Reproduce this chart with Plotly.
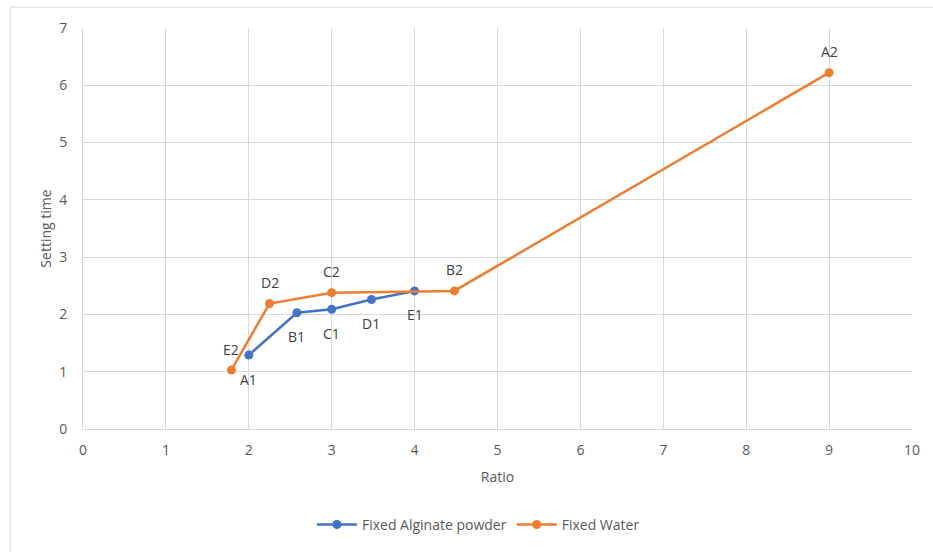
import plotly.graph_objects as go

alg_x = [2.0, 2.58, 3.0, 3.48, 4.0]
alg_y = [1.29, 2.03, 2.09, 2.26, 2.41]
alg_labels = ["A1", "B1", "C1", "D1", "E1"]

wat_x = [1.79, 2.25, 3.0, 4.48, 9.0]
wat_y = [1.03, 2.19, 2.38, 2.41, 6.22]
wat_labels = ["E2", "D2", "C2", "B2", "A2"]

x_ticks = list(range(0, 11))
y_ticks = list(range(0, 8))

FONT = "Open Sans, Lato, sans-serif"
GRAY = "#595959"
LABEL = "#404040"

fig = go.Figure()
fig.add_trace(go.Scatter(
    x=alg_x, y=alg_y, mode="lines+markers", name="Fixed Alginate powder",
    line=dict(color="#4472C4", width=2.5), marker=dict(color="#4472C4", size=9),
))
fig.add_trace(go.Scatter(
    x=wat_x, y=wat_y, mode="lines+markers", name="Fixed Water",
    line=dict(color="#ED7D31", width=2.5), marker=dict(color="#ED7D31", size=9),
))

for xv, yv, t in zip(alg_x, alg_y, alg_labels):
    fig.add_annotation(x=xv, y=yv, text=t, showarrow=False, yshift=-24,
                       font=dict(family=FONT, size=14, color=LABEL))
for xv, yv, t in zip(wat_x, wat_y, wat_labels):
    fig.add_annotation(x=xv, y=yv, text=t, showarrow=False, yshift=21,
                       font=dict(family=FONT, size=14, color=LABEL))

fig.update_layout(
    width=933, height=552,
    margin=dict(l=83, r=21, t=28, b=122),
    paper_bgcolor="white", plot_bgcolor="white",
    font=dict(family=FONT, size=13, color=GRAY),
    showlegend=True,
    legend=dict(orientation="h", x=0.477, xanchor="center", y=-0.236, yanchor="middle",
                font=dict(family=FONT, size=14, color=GRAY), itemwidth=40),
    xaxis=dict(range=[0, 10], tickvals=x_ticks, showgrid=True, gridcolor="#D9D9D9",
               showline=True, linecolor="#D9D9D9", zeroline=False,
               ticks="outside", ticklen=8, tickcolor="rgba(0,0,0,0)",
               tickfont=dict(size=14),
               title=dict(text="Ratio", standoff=14, font=dict(size=14, color=GRAY))),
    yaxis=dict(range=[0, 7], tickvals=y_ticks, showgrid=True, gridcolor="#D9D9D9",
               showline=True, linecolor="#D9D9D9", zeroline=False,
               ticks="outside", ticklen=12, tickcolor="rgba(0,0,0,0)",
               tickfont=dict(size=14),
               title=dict(text="Setting time", standoff=4, font=dict(size=14, color=GRAY))),
)
fig.add_shape(type="rect", xref="paper", yref="paper", x0=-0.088, x1=1.1, y0=-0.31, y1=1.052,
              line=dict(color="#D9D9D9", width=1), fillcolor="rgba(0,0,0,0)", layer="below")

fig.write_html("out.html", config={"displayModeBar": False},
               post_script="document.body.style.margin='0';")
